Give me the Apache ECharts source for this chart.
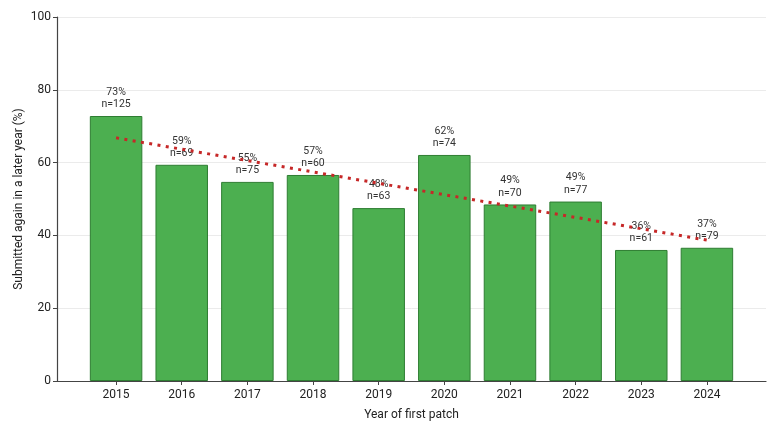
<!DOCTYPE html>
<html>
<head>
<meta charset="utf-8">
<script src="https://cdn.jsdelivr.net/npm/echarts@6/dist/echarts.min.js"></script>
<style>
html,body{margin:0;padding:0;background:#fff;}
#chart{width:778px;height:428px;}
</style>
</head>
<body>
<div id="chart"></div>
<script>
const years = ['2015','2016','2017','2018','2019','2020','2021','2022','2023','2024'];
const rates = [72.8, 59.4, 54.7, 56.6, 47.5, 62.1, 48.5, 49.3, 36.0, 36.6];
const pctLabels = ['73%','59%','55%','57%','48%','62%','49%','49%','36%','37%'];
const counts = [125, 69, 75, 60, 63, 74, 70, 77, 61, 79];
const trendX = [0, 9];
const trendY = [66.8, 38.7];
const yTicks = [0, 20, 40, 60, 80, 100];

const chart = echarts.init(document.getElementById('chart'), null, {renderer: 'canvas'});
const font = 'Roboto';
const idx = years.map((y, i) => i);

chart.setOption({
  animation: false,
  backgroundColor: '#fff',
  textStyle: {fontFamily: font},
  grid: {left: 57, right: 12, top: 17, bottom: 47},
  xAxis: {
    type: 'value',
    min: -0.9,
    max: 9.9,
    name: 'Year of first patch',
    nameLocation: 'middle',
    nameGap: 28,
    nameMoveOverlap: false,
    nameTextStyle: {fontFamily: font, fontSize: 12, color: '#222'},
    axisLine: {show: true, onZero: false, lineStyle: {color: '#444', width: 1.2}},
    axisTick: {show: true, customValues: idx, length: 4, lineStyle: {color: '#444'}},
    axisLabel: {
      customValues: idx,
      formatter: v => years[Math.round(v)] || '',
      fontFamily: font, fontSize: 12, color: '#222', margin: 8
    },
    splitLine: {show: false}
  },
  yAxis: {
    type: 'value',
    min: 0,
    max: 100,
    interval: 20,
    name: 'Submitted again in a later year (%)',
    nameLocation: 'middle',
    nameGap: 32,
    nameMoveOverlap: false,
    nameTextStyle: {fontFamily: font, fontSize: 12, color: '#222'},
    axisLine: {show: true, onZero: false, lineStyle: {color: '#444', width: 1.2}},
    axisTick: {show: true, length: 4, lineStyle: {color: '#444'}},
    axisLabel: {fontFamily: font, fontSize: 12, color: '#222', margin: 6,
      formatter: v => yTicks.includes(v) ? String(v) : ''},
    splitLine: {show: true, lineStyle: {color: '#ebebeb', width: 1}}
  },
  series: [
    {
      type: 'bar',
      barWidth: 52.5,
      data: rates.map((v, i) => [i, v]),
      itemStyle: {color: '#4caf50', borderColor: '#2e7d32', borderWidth: 1},
      label: {
        show: true,
        position: 'top',
        distance: 5,
        fontFamily: font,
        fontSize: 10.5,
        lineHeight: 12.5,
        color: '#333',
        formatter: p => pctLabels[p.dataIndex] + '\nn=' + counts[p.dataIndex]
      },
      z: 2
    },
    {
      type: 'line',
      data: trendX.map((x, i) => [x, trendY[i]]),
      symbol: 'none',
      lineStyle: {color: '#c62828', width: 3, type: [3, 5.4], cap: 'butt'},
      z: 5
    }
  ]
});
</script>
</body>
</html>
